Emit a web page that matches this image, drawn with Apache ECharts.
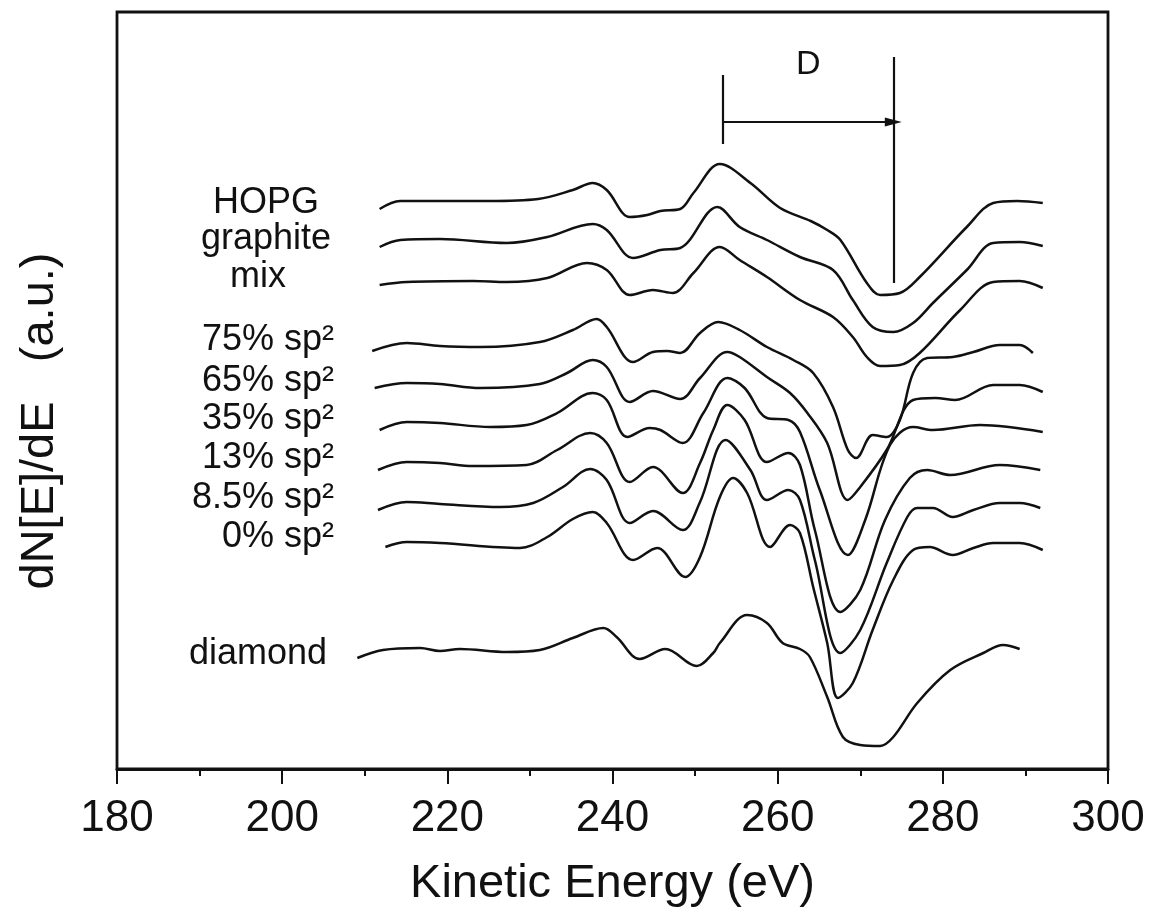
<!DOCTYPE html>
<html><head><meta charset="utf-8">
<script src="https://cdn.jsdelivr.net/npm/echarts@6/dist/echarts.min.js"></script>
<style>html,body{margin:0;padding:0;background:#fff}#c{width:1153px;height:924px}</style>
</head><body><div id="c"></div>
<script>
// Kinetic energy (eV) vs dN[E]/dE (a.u., vertically offset curves)
const hopg = [[211.8,56.0],[214.3,56.8],[219,56.8],[225,56.8],[231,57.0],[235.2,57.9],[237.6,58.6],[239.3,57.9],[242.1,55.2],[244.2,55.4],[245.8,55.8],[248.2,56.0],[249.8,57.6],[253.0,60.5],[256.7,58.6],[260.3,56.1],[264,54.8],[266.0,53.9],[267.6,52.9],[270.8,48.6],[272.4,47.4],[274.8,47.6],[277.2,49.2],[282.9,54.2],[286.1,56.6],[289.0,56.8],[292.1,56.6]];
const graphite = [[211.8,52.2],[214.3,52.9],[219.1,53.0],[227.2,52.6],[232.1,53.2],[237.6,54.5],[239.3,53.9],[242.5,51.1],[245.8,51.9],[248.2,52.1],[252.7,56.2],[255.4,54.2],[258.7,52.9],[262.7,51.2],[266.7,49.9],[269.1,46.9],[271.5,44.2],[274.0,43.7],[276.4,44.6],[278.8,46.6],[282.9,49.9],[286.1,52.6],[289.3,52.7],[292.1,52.3]];
const mix = [[211.8,48.4],[215.1,48.7],[223.1,48.8],[227.2,48.7],[232.1,49.1],[236.9,50.6],[239.3,49.9],[242.1,47.4],[244.9,47.9],[247.3,47.6],[249.8,49.6],[253.0,52.2],[255.4,50.9],[258.7,49.2],[262.7,46.9],[266.7,45.2],[269.1,43.2],[270.8,41.2],[272.4,40.3],[274.8,40.4],[277.2,41.6],[282.1,45.9],[286.1,48.7],[289.3,48.8],[292.1,48.1]];
const sp75 = [[210.9,41.8],[215.1,42.6],[219.1,42.3],[224.0,42.2],[231.2,42.7],[235.2,43.9],[238.1,45.0],[239.3,44.2],[242.5,40.7],[244.9,41.7],[246.6,41.8],[248.2,41.6],[250.6,43.6],[252.8,44.7],[255.4,43.9],[258.7,42.2],[261.9,40.9],[264.3,39.6],[266.7,36.2],[268.5,31.9],[269.5,31.1],[271.5,33.4],[273.2,33.2],[274.8,34.9],[276.4,39.6],[278.1,41.1],[281.2,41.2],[283.7,41.7],[286.9,42.4],[289.3,42.4],[290.9,41.6]];
const sp65 = [[211.2,38.1],[215.1,38.6],[219.1,38.5],[224.0,38.1],[231.2,38.5],[234.5,39.6],[237.6,40.9],[239.3,40.2],[242.1,36.7],[244.9,37.8],[248.2,37.0],[250.6,39.1],[253.9,41.7],[255.4,41.2],[258.7,39.2],[261.5,37.6],[263.6,35.6],[266.0,32.6],[268.5,26.9],[270.0,28.2],[273.2,31.9],[276.4,36.9],[279.1,37.1],[281.5,36.9],[286.1,38.4],[289.3,38.4],[292.1,37.7]];
const sp35 = [[211.8,33.9],[215.1,34.7],[219.1,34.6],[225.2,34.2],[229.6,34.4],[233.3,35.6],[237.6,37.6],[239.3,36.9],[241.8,33.2],[244.5,34.1],[245.8,33.9],[248.5,32.6],[251.0,35.6],[253.9,39.1],[256.0,38.1],[258.7,35.1],[261.3,34.9],[262.7,33.7],[265.1,27.9],[268.5,21.4],[270.6,24.9],[273.6,32.4],[276.4,34.2],[278.8,33.9],[284.5,34.4],[292.1,33.7]];
const sp13 = [[211.6,29.9],[215.1,30.7],[219.1,30.6],[223.1,30.3],[229.6,30.4],[233.3,31.9],[237.3,33.6],[239.3,32.6],[242.1,28.7],[244.9,30.2],[248.5,27.6],[250.6,30.6],[252.2,33.9],[253.9,36.4],[256.0,34.9],[258.7,30.7],[261.3,31.6],[262.7,30.4],[264.5,23.9],[267.6,15.7],[270.0,17.9],[273.0,24.9],[276.0,29.1],[278.1,29.9],[280.9,29.4],[286.9,30.4],[291.8,29.9]];
const sp85 = [[211.6,25.9],[215.1,26.7],[219.1,26.5],[226.4,26.2],[230.4,26.6],[234.0,28.2],[237.3,30.0],[239.3,28.9],[242.1,24.6],[244.9,25.8],[248.5,23.9],[250.6,26.7],[253.7,32.9],[256.7,29.9],[258.7,26.9],[261.3,27.9],[262.7,26.9],[264.5,20.9],[267.6,11.6],[270.0,13.9],[273.2,20.6],[275.7,25.2],[276.9,26.1],[278.8,26.1],[281.2,25.2],[283.7,25.9],[286.9,26.6],[289.3,26.6],[291.8,26.1]];
const sp0 = [[212.5,22.2],[215.1,22.7],[219.1,22.6],[228.8,22.1],[232.1,23.2],[235.2,25.0],[237.6,25.7],[239.3,24.6],[242.5,20.9],[245.4,22.1],[248.8,19.2],[250.6,21.2],[253.0,27.2],[254.6,29.1],[256.3,27.6],[259.1,22.2],[261.5,24.4],[262.7,23.6],[264.3,18.2],[266.0,12.6],[267.3,7.1],[269.1,8.6],[271.5,13.9],[274.0,18.9],[276.4,21.9],[278.4,22.2],[281.2,21.4],[283.7,22.1],[286.1,22.6],[289.3,22.6],[292.1,21.9]];
const diamond = [[209.1,11.1],[212.2,11.9],[216.7,12.1],[219.1,11.8],[221.5,12.0],[227.2,11.7],[231.2,11.9],[235.2,13.1],[238.9,14.1],[240.5,13.2],[243.3,11.0],[246.4,12.0],[250.2,10.3],[252.2,11.6],[253.0,12.6],[256.3,15.4],[258.7,14.6],[260.6,12.6],[262.7,12.0],[263.9,11.2],[266.0,7.2],[267.9,3.2],[270.0,2.4],[272.4,2.3],[274.0,3.2],[276.9,6.6],[280.9,9.9],[284.9,11.6],[287.3,12.4],[289.3,12.0]];
const curves = [hopg, graphite, mix, sp75, sp65, sp35, sp13, sp85, sp0, diamond];
const curveNames = ['HOPG','graphite','mix','75% sp2','65% sp2','35% sp2','13% sp2','8.5% sp2','0% sp2','diamond'];
const xTicks = [180, 200, 220, 240, 260, 280, 300];
// D marker (energy positions of the two reference lines)
const dStartE = 253.3, dEndE = 274.0;

const FONT = "'Liberation Sans', Arial, Helvetica, sans-serif";
const INK = '#111';
const chart = echarts.init(document.getElementById('c'), null, {renderer: 'canvas'});

const series = curves.map((d, i) => ({
  name: curveNames[i], type: 'line', data: d, smooth: 0.35, showSymbol: false,
  lineStyle: {color: INK, width: 2.5}, silent: true, z: 3
}));
series.push({
  type: 'line', data: [], silent: true,
  markLine: {
    silent: true, symbol: ['none', 'none'], label: {show: false},
    lineStyle: {color: INK, width: 2.2, type: 'solid'},
    data: [
      [{coord: [dStartE, 62.5]}, {coord: [dStartE, 69.4]}],
      [{coord: [dEndE, 48.6]}, {coord: [dEndE, 71.2]}],
      [{coord: [dStartE, 64.7], symbol: 'none'}, {coord: [dEndE, 64.7], symbol: 'triangle', symbolSize: [9, 17], symbolRotate: -90}]
    ]
  },
  markPoint: {
    silent: true, symbol: 'circle', symbolSize: 0,
    label: {show: true, formatter: 'D', color: INK, fontSize: 34, fontFamily: FONT, position: 'inside'},
    data: [{coord: [263.7, 70.4]}]
  }
});

const labelPos = [
  [266, 203, 'center'], [266, 239, 'center'], [258, 277, 'center'],
  [334, 340, 'right'], [334, 381, 'right'], [334, 419, 'right'], [334, 458, 'right'],
  [334, 498, 'right'], [334, 537, 'right'], [327, 654, 'right']
];
const graphics = curveNames.map((n, i) => {
  const p = labelPos[i];
  const txt = n.replace('sp2', 'sp²');
  return {type: 'text', x: p[0], y: p[1], silent: true,
    style: {text: txt, fill: INK, font: '36px ' + FONT, textAlign: p[2], textVerticalAlign: 'middle'}};
});
graphics.push({type: 'text', x: 40, y: 421, rotation: Math.PI / 2, silent: true,
  style: {text: 'dN[E]/dE   (a.u.)', fill: INK, font: '47px ' + FONT, textAlign: 'center', textVerticalAlign: 'middle'}});

chart.setOption({
  animation: false,
  backgroundColor: '#fff',
  grid: {left: 117, right: 45, top: 12, bottom: 155, show: true, borderColor: INK, borderWidth: 2.8, backgroundColor: 'transparent'},
  xAxis: {
    type: 'value', min: xTicks[0], max: xTicks[xTicks.length - 1], interval: 20,
    name: 'Kinetic Energy (eV)', nameLocation: 'middle', nameGap: 92,
    nameTextStyle: {fontSize: 47, fontFamily: FONT, color: INK},
    axisLine: {show: true, onZero: false, lineStyle: {color: INK, width: 2.8}},
    axisTick: {show: true, inside: false, length: 15, lineStyle: {color: INK, width: 2}},
    minorTick: {show: true, splitNumber: 2, length: 7, lineStyle: {color: INK, width: 2}},
    axisLabel: {fontSize: 44, fontFamily: FONT, color: INK, margin: 28},
    splitLine: {show: false}
  },
  yAxis: {
    type: 'value', min: 0, max: 75.7,
    axisLine: {show: false}, axisTick: {show: false}, axisLabel: {show: false}, splitLine: {show: false}
  },
  graphic: graphics,
  series: series
});
</script></body></html>
